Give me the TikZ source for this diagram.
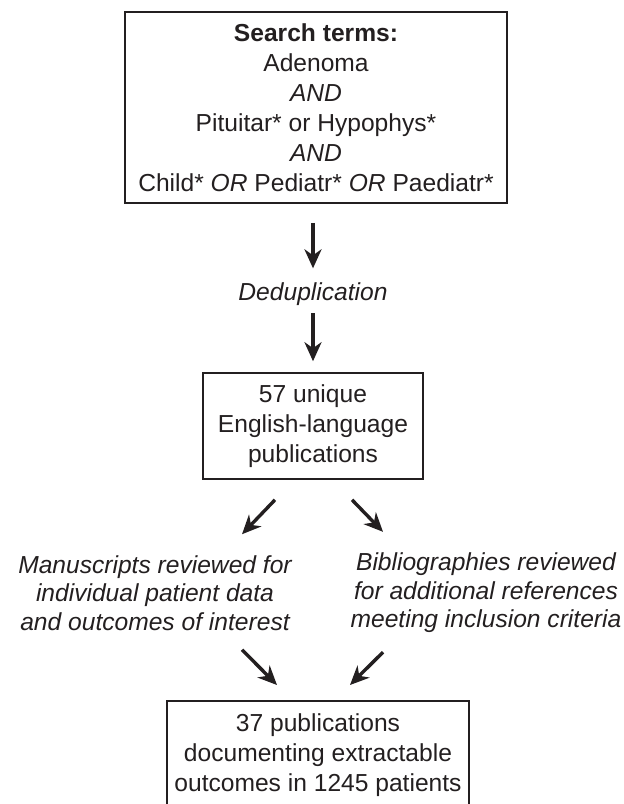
\documentclass[tikz,border=0pt]{standalone}
\usepackage{fontspec}
\setmainfont{Liberation Sans}
\usetikzlibrary{arrows.meta,positioning}
\definecolor{ink}{HTML}{231F20}

\tikzset{
  box/.style={draw=ink, text=ink, line width=1.6pt, align=center, inner sep=0pt},
  note/.style={text=ink, align=center, inner sep=0pt,
    font=\fontsize{24.6}{28.5}\selectfont\itshape},
  arr/.style={draw=ink, line width=3.4pt, -{Stealth[length=19pt,width=17pt,inset=6pt]}}
}

\begin{document}
\fontsize{24.6}{30}\selectfont
\begin{tikzpicture}[x=1pt,y=-1pt]
  \useasboundingbox (0,0) rectangle (624,804);
  \clip (0,0) rectangle (624,804);
  % Search box
  \node[box, minimum width=382pt, minimum height=191pt] (search) at (316,107.5)
    {{\bfseries Search terms:}\\ Adenoma\\ \textit{AND}\\ Pituitar* or Hypophys*\\
     \textit{AND}\\ Child* \textit{OR} Pediatr* \textit{OR} Paediatr*};
  %Deduplication
  \node[note] (dedup) at (313,294) {Deduplication};
  \draw[arr, shorten <=19pt, shorten >=14pt] (search.south -| dedup.north) -- (dedup.north);
  % Unique publications
  \node[box, minimum width=220pt, minimum height=106pt] (pubs) at (313,426)
    {57 unique\\ English-language\\ publications};
  \draw[arr, shorten <=7.5pt, shorten >=11pt] (dedup.south) -- (pubs.north);
  % Two reviews
  \node[note] (manu) at (155,593)
    {Manuscripts reviewed for\\ individual patient data\\ and outcomes of interest};
  \node[note] (biblio) at (486,593)
    {Bibliographies reviewed\\ for additional references\\ meeting inclusion criteria};
  \draw[arr] ([shift={(-38,20)}]pubs.south) -- ([shift={(87,-21)}]manu.north);
  \draw[arr] ([shift={(39,20)}]pubs.south) -- ([shift={(-103,-21)}]biblio.north);
  % Final set
  \node[box, anchor=north, minimum width=302pt, inner ysep=13pt] (final) at (318,700)
    {37 publications\\ documenting extractable\\ outcomes in 1245 patients};
  \draw[arr] ([shift={(87,19)}]manu.south) -- ([shift={(-41,-15)}]final.north);
  \draw[arr] ([shift={(-103,19)}]biblio.south) -- ([shift={(32,-15)}]final.north);
\end{tikzpicture}
\end{document}
